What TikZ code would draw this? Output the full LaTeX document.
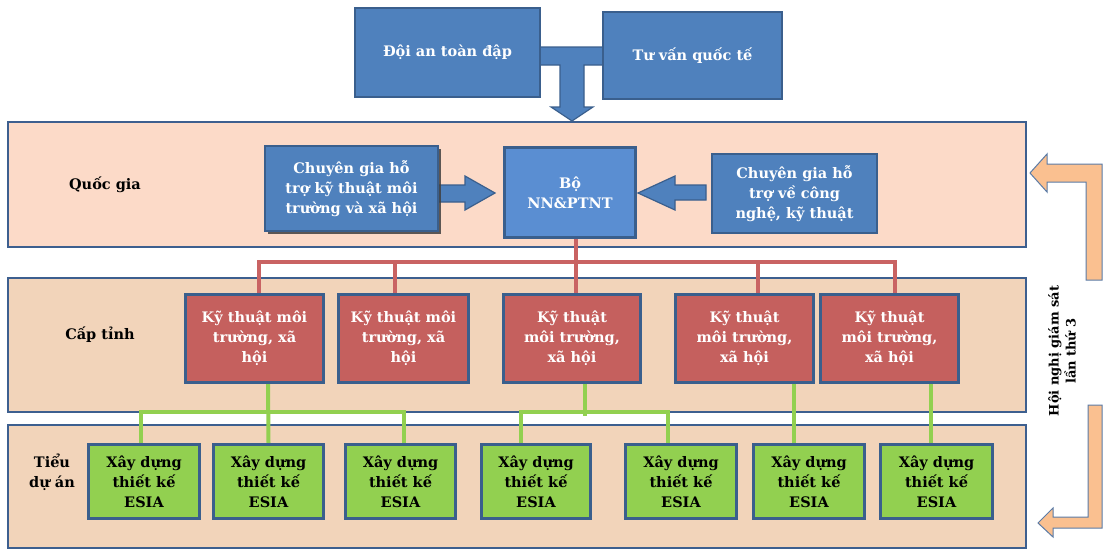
\documentclass[tikz,border=0pt]{standalone}
\usepackage{fontspec}
\setmainfont{DejaVu Serif}
\usetikzlibrary{calc,shadows}
\definecolor{bandbd}{HTML}{3D5F8F}
\definecolor{qgfill}{HTML}{FCDAC8}
\definecolor{ctfill}{HTML}{F2D4BA}
\definecolor{blueF}{HTML}{4F81BD}
\definecolor{blueD}{HTML}{3A5F8D}
\definecolor{boF}{HTML}{5A8ED2}
\definecolor{redF}{HTML}{C5605E}
\definecolor{greenF}{HTML}{92D050}
\definecolor{redL}{HTML}{C96363}
\definecolor{greenL}{HTML}{92D050}
\definecolor{orF}{HTML}{FAC090}
\definecolor{orD}{HTML}{5B7BA6}
\tikzset{
  band/.style={draw=bandbd, line width=2.5pt, inner sep=0pt},
  box/.style={draw=blueD, line width=2pt, text=white, align=center, inner sep=0pt,
    font=\bfseries\fontsize{14.5}{20}\selectfont},
  bluebox/.style={box, fill=blueF},
  redbox/.style={box, fill=redF, minimum height=87pt},
  greenbox/.style={box, fill=greenF, text=black, minimum height=73pt},
  lbl/.style={text=black, align=center, font=\bfseries\fontsize{14.5}{20}\selectfont},
  barrow/.style={fill=blueF, draw=blueD, line width=1.2pt, line join=miter},
  oarrow/.style={fill=orF, draw=orD, line width=1pt, line join=miter},
  redline/.style={draw=redL, line width=4pt, line join=miter},
  greenline/.style={draw=greenL, line width=4pt, line join=miter}
}
\begin{document}
\begin{tikzpicture}[x=1pt,y=-1pt]
\useasboundingbox (0,0) rectangle (1104,549);
% bands
\node[band, fill=qgfill, minimum width=1018pt, minimum height=125pt] (qg) at (517,184.5) {};
\node[band, fill=ctfill, minimum width=1018pt, minimum height=134pt] (ct) at (517,345) {};
\node[band, fill=ctfill, minimum width=1018pt, minimum height=123pt] (td) at (517,486.5) {};
% T arrow
\draw[barrow] (540,47) -- (603,47) -- (603,65) -- (584,65) -- (584,107) -- (593,107)
  -- (572,121) -- (551,107) -- (560,107) -- (560,65) -- (540,65) -- cycle;
% top boxes
\node[bluebox, minimum width=185pt, minimum height=89pt] (doi) at (447.5,52.5) {Đội an toàn đập};
\node[bluebox, minimum width=179pt, minimum height=87pt] (tv) at (692.5,55.5) {Tư vấn quốc tế};
% national level
\draw[barrow] (438,185) -- (465,185) -- (465,176) -- (495,193) -- (465,210) -- (465,202) -- (438,202) -- cycle;
\draw[barrow] (706,185) -- (675,185) -- (675,176) -- (638,193) -- (675,210) -- (675,200) -- (706,200) -- cycle;
\node[bluebox, minimum width=173pt, minimum height=85pt,
  drop shadow={shadow xshift=3pt, shadow yshift=-3pt, opacity=.85, fill=black!75}] (cg1) at (351.5,188.5)
  {Chuyên gia hỗ\\trợ kỹ thuật môi\\trường và xã hội};
\node[box, fill=boF, minimum width=130pt, minimum height=89pt] (bo) at (570,192.5) {Bộ\\NN\&PTNT};
\node[bluebox, minimum width=165pt, minimum height=79pt] (cg2) at (794.5,193.5)
  {Chuyên gia hỗ\\trợ về công\\nghệ, kỹ thuật};
% province boxes
\node[redbox, minimum width=137pt] (r1) at (254.5,338.5) {Kỹ thuật môi\\trường, xã\\hội};
\node[redbox, minimum width=129pt] (r2) at (403.5,338.5) {Kỹ thuật môi\\trường, xã\\hội};
\node[redbox, minimum width=136pt] (r3) at (572,338.5) {Kỹ thuật\\môi trường,\\xã hội};
\node[redbox, minimum width=137pt] (r4) at (744.5,338.5) {Kỹ thuật\\môi trường,\\xã hội};
\node[redbox, minimum width=137pt] (r5) at (889.5,338.5) {Kỹ thuật\\môi trường,\\xã hội};
% subproject boxes
\node[greenbox, minimum width=110pt] (g1) at (144,481.5) {Xây dựng\\thiết kế\\ESIA};
\node[greenbox, minimum width=109pt] (g2) at (268.5,481.5) {Xây dựng\\thiết kế\\ESIA};
\node[greenbox, minimum width=109pt] (g3) at (400.5,481.5) {Xây dựng\\thiết kế\\ESIA};
\node[greenbox, minimum width=108pt] (g4) at (536,481.5) {Xây dựng\\thiết kế\\ESIA};
\node[greenbox, minimum width=110pt] (g5) at (681,481.5) {Xây dựng\\thiết kế\\ESIA};
\node[greenbox, minimum width=110pt] (g6) at (809,481.5) {Xây dựng\\thiết kế\\ESIA};
\node[greenbox, minimum width=111pt] (g7) at (936.5,481.5) {Xây dựng\\thiết kế\\ESIA};
% red connectors
\draw[redline] ([xshift=4.5pt,yshift=1pt]r1.north) -- ++(0,-31) -| ([xshift=5.5pt,yshift=1pt]r5.north);
\draw[redline] ([xshift=-8.5pt,yshift=1pt]r2.north) -- ++(0,-31);
\draw[redline] ([xshift=13.5pt,yshift=1pt]r4.north) -- ++(0,-31);
\draw[redline] ([xshift=6pt,yshift=-1pt]bo.south) -- ([xshift=4pt,yshift=1pt]r3.north);
% green connectors
\draw[greenline] ([xshift=13.5pt,yshift=-1pt]r1.south) -- ([yshift=1pt]g2.north);
\draw[greenline] ([xshift=-3pt,yshift=1pt]g1.north) -- ++(0,-31) -| ([xshift=3.5pt,yshift=1pt]g3.north);
\draw[greenline] ([xshift=13pt,yshift=-1pt]r3.south) -- ++(0,32);
\draw[greenline] ([xshift=-15pt,yshift=1pt]g4.north) -- ++(0,-31) -| ([xshift=-13pt,yshift=1pt]g5.north);
\draw[greenline] ([xshift=49.5pt,yshift=-1pt]r4.south) -- ([xshift=-15pt,yshift=1pt]g6.north);
\draw[greenline] ([xshift=41.5pt,yshift=-1pt]r5.south) -- ([xshift=-5.5pt,yshift=1pt]g7.north);
% redraw box borders over connectors
\foreach \n in {r1,r2,r3,r4,r5,g1,g2,g3,g4,g5,g6,g7,bo}{
  \draw[draw=blueD, line width=2pt] (\n.south west) rectangle (\n.north east);
}
% orange arrows
\draw[oarrow] (1030,173) -- (1047,154) -- (1047,164) -- (1102,164) -- (1102,280) -- (1086,280)
  -- (1086,182) -- (1047,182) -- (1047,192) -- cycle;
\draw[oarrow] (1038,523) -- (1053,508) -- (1053,517) -- (1088,517) -- (1088,405) -- (1102,405)
  -- (1102,528) -- (1053,528) -- (1053,537) -- cycle;
% labels
\node[lbl] (lqg) at (105,185) {Quốc gia};
\node[lbl] (lct) at (100,335) {Cấp tỉnh};
\node[lbl] (ltd) at (52,472) {Tiểu\\dự án};
\node[lbl, rotate=90, font=\bfseries\fontsize{13}{17}\selectfont] (lhn) at (1062,351) {Hội nghị giám sát\\lần thứ 3};
\end{tikzpicture}
\end{document}
